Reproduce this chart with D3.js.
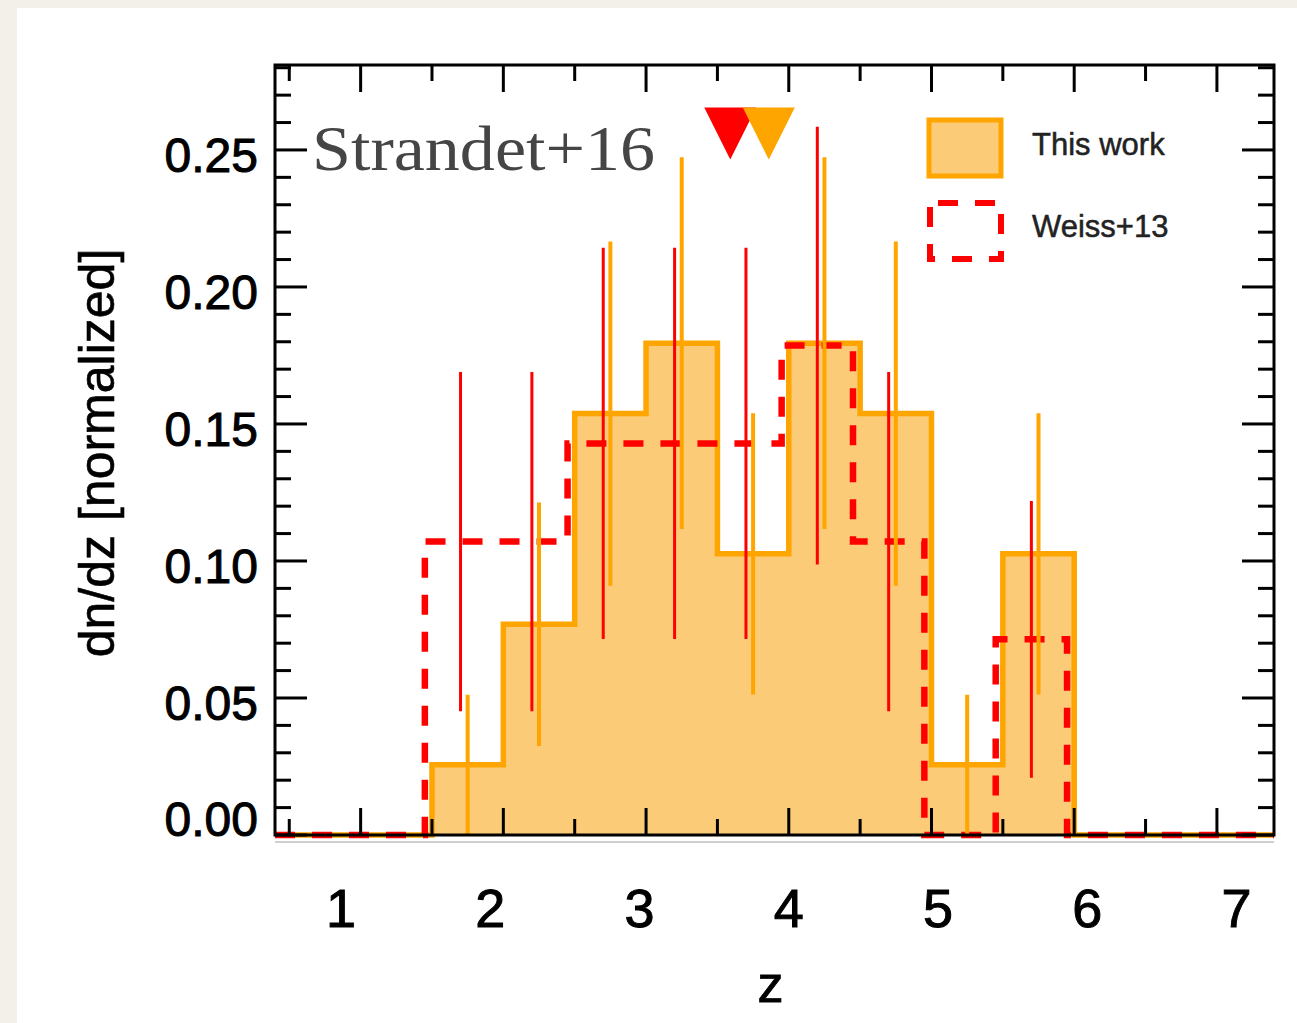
<!DOCTYPE html>
<html>
<head>
<meta charset="utf-8">
<script src="https://cdn.jsdelivr.net/npm/d3@7"></script>
<style>
  html, body { margin: 0; padding: 0; background: #ffffff; }
  svg { display: block; }
</style>
</head>
<body>
<svg id="chart" width="1297" height="1023"></svg>
<script>
// ---------------- DATA ----------------
const binEdges = [1.5, 2.0, 2.5, 3.0, 3.5, 4.0, 4.5, 5.0, 5.5, 6.0];
const thisWorkValues = [0.0256, 0.0769, 0.1538, 0.1795, 0.1026, 0.1795, 0.1538, 0.0256, 0.1026];
const thisWorkErrors = [0.0256, 0.0444, 0.0628, 0.0678, 0.0513, 0.0678, 0.0628, 0.0256, 0.0513];
const weissValues = [0.1071, 0.1071, 0.1429, 0.1429, 0.1429, 0.1786, 0.1071, 0.0, 0.0714];
const weissErrors = [0.0619, 0.0619, 0.0714, 0.0714, 0.0714, 0.0799, 0.0619, 0.0, 0.0505];
const medianZ = [{ z: 3.59, series: "weiss" }, { z: 3.86, series: "this" }];
const xTickLabels = [1, 2, 3, 4, 5, 6, 7];
const yTickLabels = [0.00, 0.05, 0.10, 0.15, 0.20, 0.25];
const legendLabels = ["This work", "Weiss+13"];
const xDomain = [0.4, 7.4];
const yDomain = [0, 0.281];

(function () {
// ---------------- STYLE ----------------
const ORANGE = "#FFA500";
const FILL = "#FCCB78";
const RED = "#FF0000";
const weissShift = -0.05;

const svg = d3.select("#chart");
const W = 1297, H = 1023;
const pL = 275, pR = 1274, pT = 65, pB = 835;

// page background (beige border)
svg.append("rect").attr("x", 0).attr("y", 0).attr("width", W).attr("height", H).attr("fill", "#ffffff");
svg.append("rect").attr("x", 0).attr("y", 0).attr("width", W).attr("height", 8).attr("fill", "#F3F0EA");
svg.append("rect").attr("x", 0).attr("y", 0).attr("width", 17).attr("height", H).attr("fill", "#F3F0EA");

const x = d3.scaleLinear().domain(xDomain).range([pL, pR]);
const y = d3.scaleLinear().domain(yDomain).range([pB, pT]);
// tick labels in the reference are spread slightly wider than the ticks
const labelStretch = 1.046;
const xLab = z => x(4) + (x(z) - x(4)) * labelStretch;

const plot = svg.append("g");
plot.append("clipPath").attr("id", "clip").append("rect")
  .attr("x", pL).attr("y", pT).attr("width", pR - pL).attr("height", pB - pT + 4);

function histPoints(values, shift) {
  const pts = [[xDomain[0], 0], [binEdges[0] + shift, 0]];
  values.forEach((v, i) => {
    pts.push([binEdges[i] + shift, v]);
    pts.push([binEdges[i + 1] + shift, v]);
  });
  pts.push([binEdges[binEdges.length - 1] + shift, 0]);
  pts.push([xDomain[1], 0]);
  return pts;
}
const line = d3.line().x(d => x(d[0])).y(d => y(d[1]));
const area = d3.area().x(d => x(d[0])).y0(y(0)).y1(d => y(d[1]));

const g = plot.append("g").attr("clip-path", "url(#clip)");

// This work filled histogram
const twPts = histPoints(thisWorkValues, 0);
g.append("path").attr("d", area(twPts)).attr("fill", FILL);
g.append("path").attr("d", line(twPts)).attr("fill", "none")
  .attr("stroke", ORANGE).attr("stroke-width", 5.5).attr("stroke-linejoin", "miter");

// Weiss+13 dashed histogram
const wPts = histPoints(weissValues, weissShift);
g.append("path").attr("d", line(wPts)).attr("fill", "none")
  .attr("stroke", RED).attr("stroke-width", 6.5).attr("stroke-dasharray", "20 17");

// error bars
const centers = binEdges.slice(0, -1).map((e, i) => (e + binEdges[i + 1]) / 2);
centers.forEach((c, i) => {
  g.append("line")
    .attr("x1", x(c)).attr("x2", x(c))
    .attr("y1", y(Math.max(0, thisWorkValues[i] - thisWorkErrors[i])))
    .attr("y2", y(thisWorkValues[i] + thisWorkErrors[i]))
    .attr("stroke", ORANGE).attr("stroke-width", 4);
});
centers.forEach((c, i) => {
  if (weissErrors[i] <= 0) return;
  g.append("line")
    .attr("x1", x(c + weissShift)).attr("x2", x(c + weissShift))
    .attr("y1", y(Math.max(0, weissValues[i] - weissErrors[i])))
    .attr("y2", y(weissValues[i] + weissErrors[i]))
    .attr("stroke", RED).attr("stroke-width", 3);
});

// median triangles
const triTop = 0.2655, triBottom = 0.2465;
medianZ.forEach(m => {
  const cx = x(m.z);
  const half = 26;
  g.append("path")
    .attr("d", `M${cx - half},${y(triTop)}L${cx + half},${y(triTop)}L${cx},${y(triBottom)}Z`)
    .attr("fill", m.series === "weiss" ? RED : ORANGE);
});

// ---------------- AXES / FRAME ----------------
const axes = svg.append("g");
const majX = d3.range(1, 8, 1);
const minX = d3.range(0.5, 7.41, 1);
const majY = d3.range(0, 0.281, 0.05);
const minY = d3.range(0, 0.281, 0.01).filter(v => Math.abs(v / 0.05 - Math.round(v / 0.05)) > 1e-6);
const MAJ = 27, MIN = 16;

function tickSet(vals, len, orient) {
  vals.forEach(v => {
    if (orient === "x") {
      const px = x(v);
      axes.append("line").attr("x1", px).attr("x2", px).attr("y1", pB).attr("y2", pB - len)
        .attr("stroke", "#000").attr("stroke-width", 3);
      axes.append("line").attr("x1", px).attr("x2", px).attr("y1", pT).attr("y2", pT + len)
        .attr("stroke", "#000").attr("stroke-width", 3);
    } else {
      const py = y(v);
      axes.append("line").attr("x1", pL).attr("x2", pL + len).attr("y1", py).attr("y2", py)
        .attr("stroke", "#000").attr("stroke-width", 3);
      axes.append("line").attr("x1", pR).attr("x2", pR - len).attr("y1", py).attr("y2", py)
        .attr("stroke", "#000").attr("stroke-width", 3);
    }
  });
}
tickSet(majX, MAJ, "x");
tickSet(minX, MIN, "x");
tickSet(majY, MAJ + 5, "y");
tickSet(minY, MIN, "y");

axes.append("rect").attr("x", pL).attr("y", pT).attr("width", pR - pL).attr("height", pB - pT)
  .attr("fill", "none").attr("stroke", "#000").attr("stroke-width", 3);
axes.append("line").attr("x1", pL).attr("x2", pR).attr("y1", pB + 7).attr("y2", pB + 7)
  .attr("stroke", "#cfcfcf").attr("stroke-width", 2);

// tick labels
const font = "'Liberation Sans', Arial, Helvetica, sans-serif";
axes.selectAll(".xl").data(xTickLabels).enter().append("text")
  .attr("x", d => xLab(d)).attr("y", 927)
  .attr("text-anchor", "middle").attr("font-family", font).attr("font-size", 54)
  .attr("fill", "#000").attr("stroke", "#000").attr("stroke-width", 1).text(d => d);
axes.selectAll(".yl").data(yTickLabels).enter().append("text")
  .attr("x", 258).attr("y", d => y(d) + (d === 0 ? 1 : 22))
  .attr("text-anchor", "end").attr("font-family", font).attr("font-size", 48)
  .attr("fill", "#000").attr("stroke", "#000").attr("stroke-width", 1).text(d => d3.format(".2f")(d));

// axis titles
axes.append("text").attr("x", (pL + pR) / 2 - 4).attr("y", 1002)
  .attr("text-anchor", "middle").attr("font-family", font).attr("font-size", 52)
  .attr("fill", "#000").attr("stroke", "#000").attr("stroke-width", 0.8).text("z");
axes.append("text").attr("transform", "translate(114,453) rotate(-90)")
  .attr("text-anchor", "middle").attr("font-family", font).attr("font-size", 50)
  .attr("fill", "#000").attr("stroke", "#000").attr("stroke-width", 0.6).text("dn/dz [normalized]");

// annotation
axes.append("text").attr("x", 312).attr("y", 170)
  .attr("font-family", "'Liberation Serif', 'DejaVu Serif', serif").attr("font-size", 64)
  .attr("textLength", 343).attr("lengthAdjust", "spacingAndGlyphs")
  .attr("fill", "#454545").text("Strandet+16");

// legend
const leg = svg.append("g");
leg.append("rect").attr("x", 929).attr("y", 120).attr("width", 72).attr("height", 56)
  .attr("fill", FILL).attr("stroke", ORANGE).attr("stroke-width", 5);
leg.append("rect").attr("x", 930).attr("y", 203).attr("width", 71).attr("height", 56)
  .attr("fill", "none").attr("stroke", RED).attr("stroke-width", 6).attr("stroke-dasharray", "20 17")
  .attr("stroke-dashoffset", -8);
leg.selectAll(".lt").data(legendLabels).enter().append("text")
  .attr("x", 1032).attr("y", (d, i) => 155 + i * 82)
  .attr("font-family", font).attr("font-size", 31).attr("fill", "#222")
  .attr("stroke", "#222").attr("stroke-width", 0.5).text(d => d);
})();
</script>
</body>
</html>
